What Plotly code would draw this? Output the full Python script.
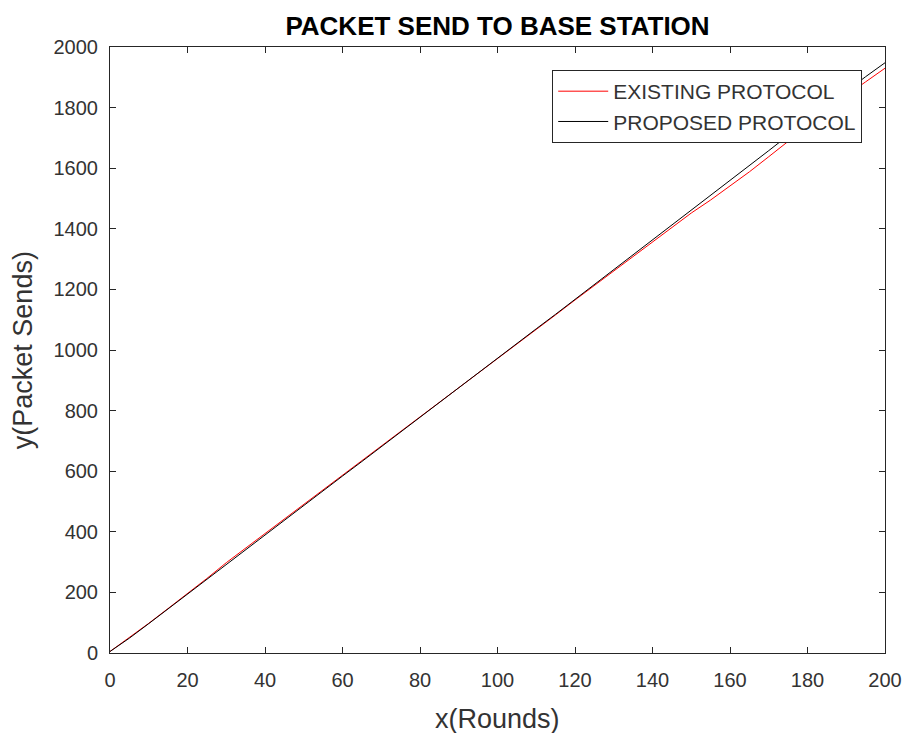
import plotly.graph_objects as go

rounds = [0, 5, 10, 15, 20, 25, 30, 35, 40, 45, 50, 55, 60, 65, 70, 75, 80, 85, 90, 95,
          100, 105, 110, 115, 120, 125, 130, 135, 140, 145, 150, 155, 160, 165, 170, 175,
          180, 185, 190, 195, 200]

existing = [5, 50, 98, 147, 196, 246, 298, 346, 394, 441, 489, 537, 585, 633, 682, 730,
            778, 826, 874, 922, 972, 1020, 1068, 1116, 1165, 1213, 1261, 1310, 1358, 1404,
            1452, 1495, 1540, 1588, 1638, 1688, 1738, 1790, 1840, 1885, 1930]

proposed = [5, 49, 97, 146, 195, 243, 292, 340, 389, 438, 487, 535, 584, 632, 681, 730,
            778, 827, 875, 924, 972, 1021, 1070, 1118, 1167, 1215, 1264, 1313, 1361, 1410,
            1462, 1511, 1560, 1609, 1658, 1708, 1757, 1806, 1855, 1902, 1948]

x_ticks = [0, 20, 40, 60, 80, 100, 120, 140, 160, 180, 200]
y_ticks = [0, 200, 400, 600, 800, 1000, 1200, 1400, 1600, 1800, 2000]

FONT = "Liberation Sans, Arial, Helvetica, sans-serif"
TXT = "#333333"

fig = go.Figure()
fig.add_trace(go.Scatter(x=rounds, y=existing, mode="lines", name="EXISTING PROTOCOL",
                         line=dict(color="#ff0000", width=1)))
fig.add_trace(go.Scatter(x=rounds, y=proposed, mode="lines", name="PROPOSED PROTOCOL",
                         line=dict(color="#000000", width=1)))

axis_common = dict(showline=True, linecolor="#262626", linewidth=1, mirror="ticks",
                   ticks="inside", ticklen=6, tickcolor="#262626", showgrid=False,
                   zeroline=False, tickfont=dict(family=FONT, size=20, color=TXT))

fig.update_xaxes(range=[0, 200], tickvals=x_ticks, ticklabelstandoff=9, **axis_common)
fig.update_yaxes(range=[0, 2000], tickvals=y_ticks, ticklabelstandoff=7, **axis_common)

fig.add_annotation(text="x(Rounds)", xref="paper", yref="paper", x=0.5, y=-0.109,
                   xanchor="center", yanchor="middle", showarrow=False,
                   font=dict(family=FONT, size=27, color=TXT))
fig.add_annotation(text="y(Packet Sends)", xref="paper", yref="paper", x=-0.112, y=0.5,
                   xanchor="center", yanchor="middle", textangle=-90, showarrow=False,
                   font=dict(family=FONT, size=27, color=TXT))

fig.update_layout(
    width=914, height=733,
    margin=dict(l=110, r=21, t=47, b=80),
    paper_bgcolor="white", plot_bgcolor="white",
    title=dict(text="<b>PACKET SEND TO BASE STATION</b>", x=0.5, xref="paper", xanchor="center",
               yref="container", y=1 - 26 / 733, yanchor="middle",
               font=dict(family=FONT, size=26, color="#000000")),
    legend=dict(x=0.9706, xanchor="right", y=0.962, yanchor="top",
                bgcolor="white", bordercolor="#262626", borderwidth=1,
                font=dict(family=FONT, size=21, color=TXT),
                itemwidth=50, tracegroupgap=0),
    showlegend=True,
)

fig.write_html("out.html", config={"displayModeBar": False},
               post_script="document.body.style.margin='0px';document.body.style.overflow='hidden';")
